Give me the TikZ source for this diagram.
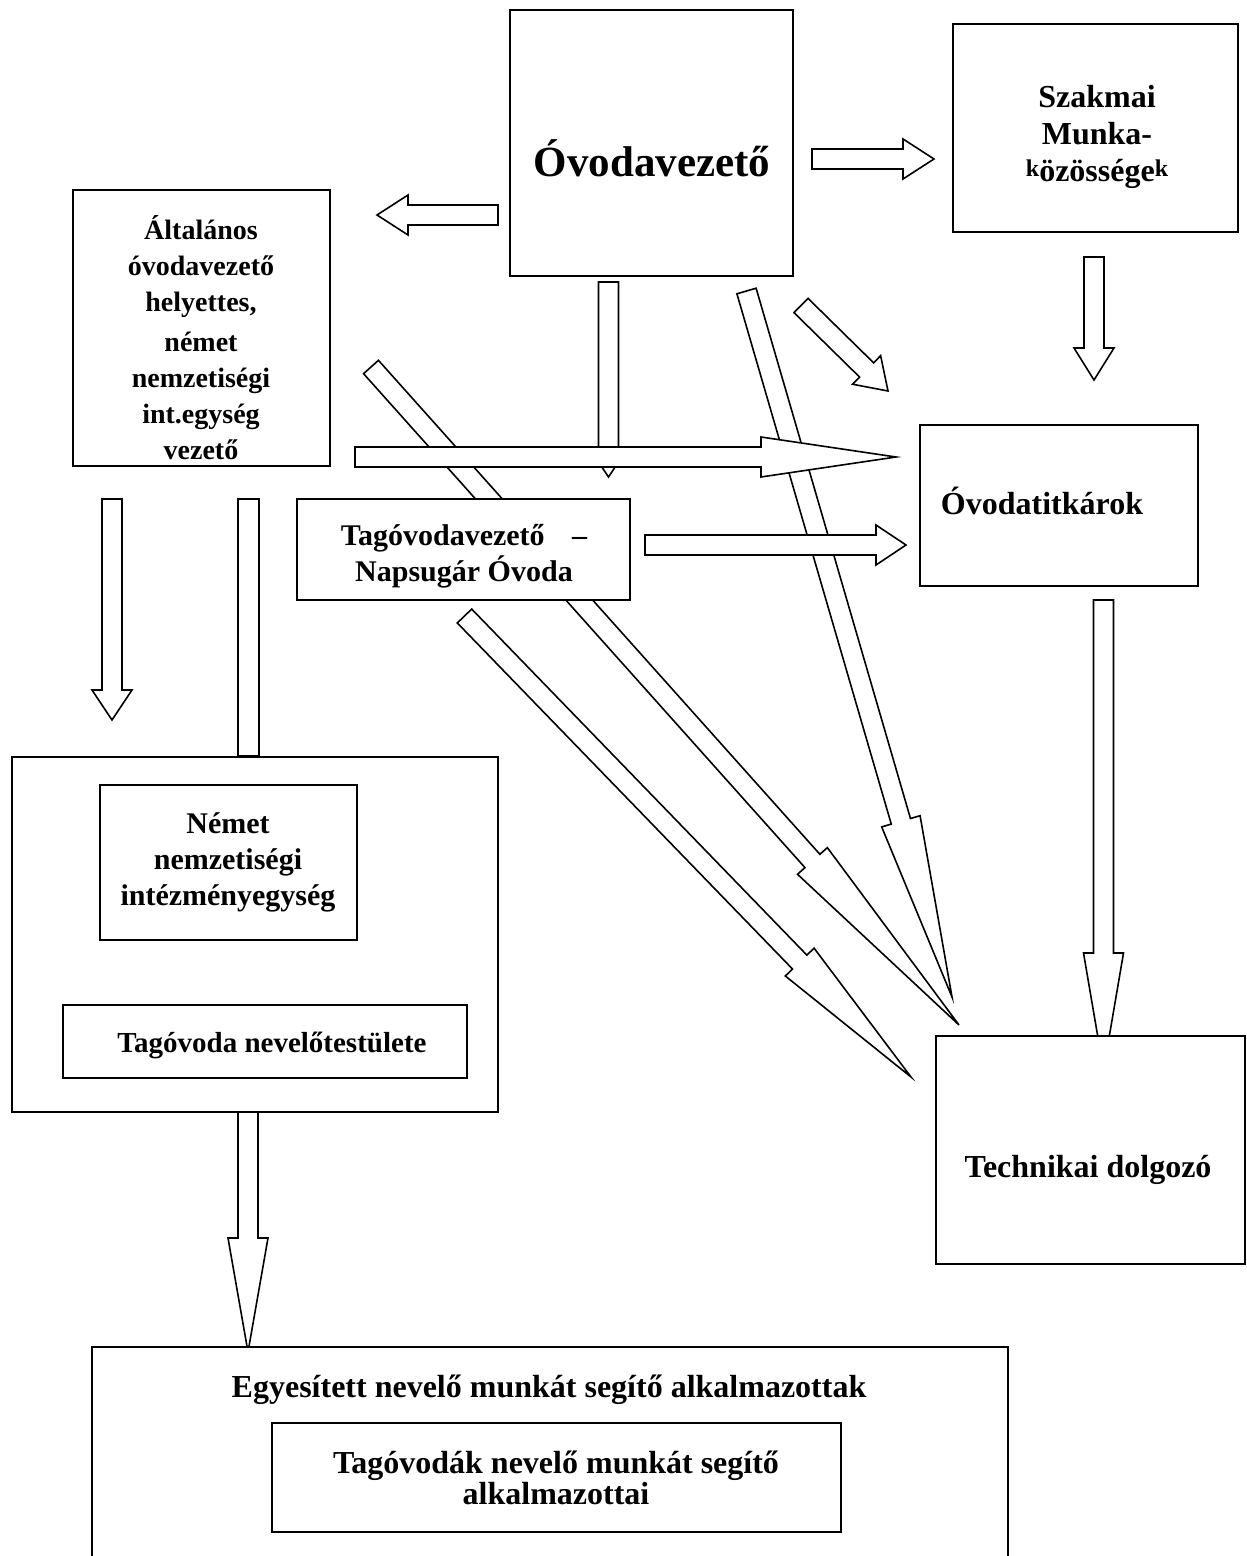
\documentclass[tikz,border=0pt]{standalone}
\usepackage{fontspec}
\setmainfont{Liberation Serif}
\usetikzlibrary{calc,fit}

\tikzset{
  box/.style={draw, line width=1pt, fill=white, inner sep=0pt},
  lbl/.style={font=\fontsize{15}{18}\selectfont\bfseries, align=center},
  big/.style={font=\fontsize{16}{18}\selectfont\bfseries},
  fat/.style={draw, line width=0.8pt, fill=white, line join=miter},
}

% hollow block arrow: from, to, head length
\newcommand{\fatarrow}[3]{%
  \coordinate (fa-base) at ($(#2)!#3!(#1)$);
  \path[fat] ($(#1)!5pt!90:(#2)$) -- ($(fa-base)!5pt!-90:(#1)$) -- ($(fa-base)!10pt!-90:(#1)$) -- (#2)
    -- ($(fa-base)!10pt!90:(#1)$) -- ($(fa-base)!5pt!90:(#1)$) -- ($(#1)!5pt!-90:(#2)$) -- cycle;
}
\newcommand{\smallk}{\raisebox{2.6pt}{\fontsize{12}{12}\selectfont k}}

\begin{document}
\begin{tikzpicture}[x=0.5pt,y=-0.5pt]
\useasboundingbox (0,0) rectangle (1246,1556);
\clip (0,0) rectangle (1246,1556);

% arrow ends
\coordinate (vl-a) at (498,215);    \coordinate (vl-b) at (377,215);
\coordinate (vr-a) at (812,159);    \coordinate (vr-b) at (934,159);
\coordinate (sz-a) at (1094,257);   \coordinate (sz-b) at (1094,380);
\coordinate (vd-a) at (608.5,282);  \coordinate (vd-b) at (608.5,477);
\coordinate (ah-a) at (355,457);    \coordinate (ah-b) at (896,457);
\coordinate (th-a) at (645,545);    \coordinate (th-b) at (906,545);
\coordinate (td-a) at (1103.5,600); \coordinate (td-b) at (1103.5,1070);
\coordinate (al-a) at (112,499);    \coordinate (al-b) at (112,720);
\coordinate (ar-a) at (238,499);    \coordinate (ar-b) at (259,756);
\coordinate (bd-a) at (248,1112);   \coordinate (bd-b) at (248,1352);
\coordinate (da-a) at (746.5,291);  \coordinate (da-b) at (952,997);
\coordinate (db-a) at (371,367);    \coordinate (db-b) at (959,1025);
\coordinate (dc-a) at (464.5,616);  \coordinate (dc-b) at (911,1077);
\coordinate (ds-a) at (801,305.5);  \coordinate (ds-b) at (888,391);

% arrows behind
\fatarrow{da-a}{da-b}{91.5pt}
\fatarrow{db-a}{db-b}{110pt}
\fatarrow{dc-a}{dc-b}{80pt}
\fatarrow{ds-a}{ds-b}{15pt}
\fatarrow{vd-a}{vd-b}{15pt}
\fatarrow{ah-a}{ah-b}{67.5pt}
\fatarrow{th-a}{th-b}{15pt}
\fatarrow{vl-a}{vl-b}{15.5pt}
\fatarrow{vr-a}{vr-b}{15.5pt}
\fatarrow{sz-a}{sz-b}{16pt}
\fatarrow{td-a}{td-b}{58.5pt}
\fatarrow{al-a}{al-b}{15pt}
\fatarrow{bd-a}{bd-b}{57pt}
\path[fat] (ar-a) rectangle (ar-b);

% boxes
\node[box, fit={(510,10) (793,276)}] (ovodavezeto) {};
\node[box, fit={(953,24) (1238,232)}] (szakmai) {};
\node[box, fit={(73,190) (330,466)}] (altalanos) {};
\node[box, fit={(297,499) (630,600)}] (tagvezeto) {};
\node[box, fit={(920,425) (1198,586)}] (titkarok) {};
\node[box, fit={(936,1036) (1245,1264)}] (technikai) {};
\node[box, fit={(12,757) (498,1112)}] (nemzetisegi) {};
\node[box, fit={(100,785) (357,940)}] (nemet) {};
\node[box, fit={(63,1005) (467,1078)}] (tagnevelo) {};
\node[box, fit={(92,1347) (1008,1620)}] (egyesitett) {};
\node[box, fit={(272,1423) (841,1532)}] (segito) {};

% texts
\node[lbl, font=\fontsize{21.5}{24}\selectfont\bfseries] (ovodavezeto-t) at (652,158) {Óvodavezető};
\node[lbl, big, font=\fontsize{16}{18.5}\selectfont\bfseries] (szakmai-t) at (1097,137) {Szakmai\\Munka-\\\smallk{}özössége\smallk{}};
\node[lbl, font=\fontsize{14}{18}\selectfont\bfseries] (altalanos-t) at (201,338) {Általános\\óvodavezető\\helyettes,\\[2pt]német\\nemzetiségi\\int.egység\\vezető};
\node[lbl] (tagvezeto-t) at (464,556) {Tagóvodavezető~~~\,–\\Napsugár Óvoda};
\node[lbl, big] (titkarok-t) at (1042,501) {Óvodatitkárok};
\node[lbl, big] (technikai-t) at (1088,1170) {Technikai dolgozó};
\node[lbl] (nemet-t) at (228,862) {Német\\nemzetiségi\\intézményegység};
\node[lbl, font=\fontsize{14.5}{18}\selectfont\bfseries] (tagnevelo-t) at (272,1045) {Tagóvoda nevelőtestülete};
\node[lbl, big] (egyesitett-t) at (549,1390) {Egyesített nevelő munkát segítő alkalmazottak};
\node[lbl, font=\fontsize{16}{14.5}\selectfont\bfseries] (segito-t) at (556,1478) {Tagóvodák nevelő munkát segítő\\alkalmazottai};
\end{tikzpicture}
\end{document}
